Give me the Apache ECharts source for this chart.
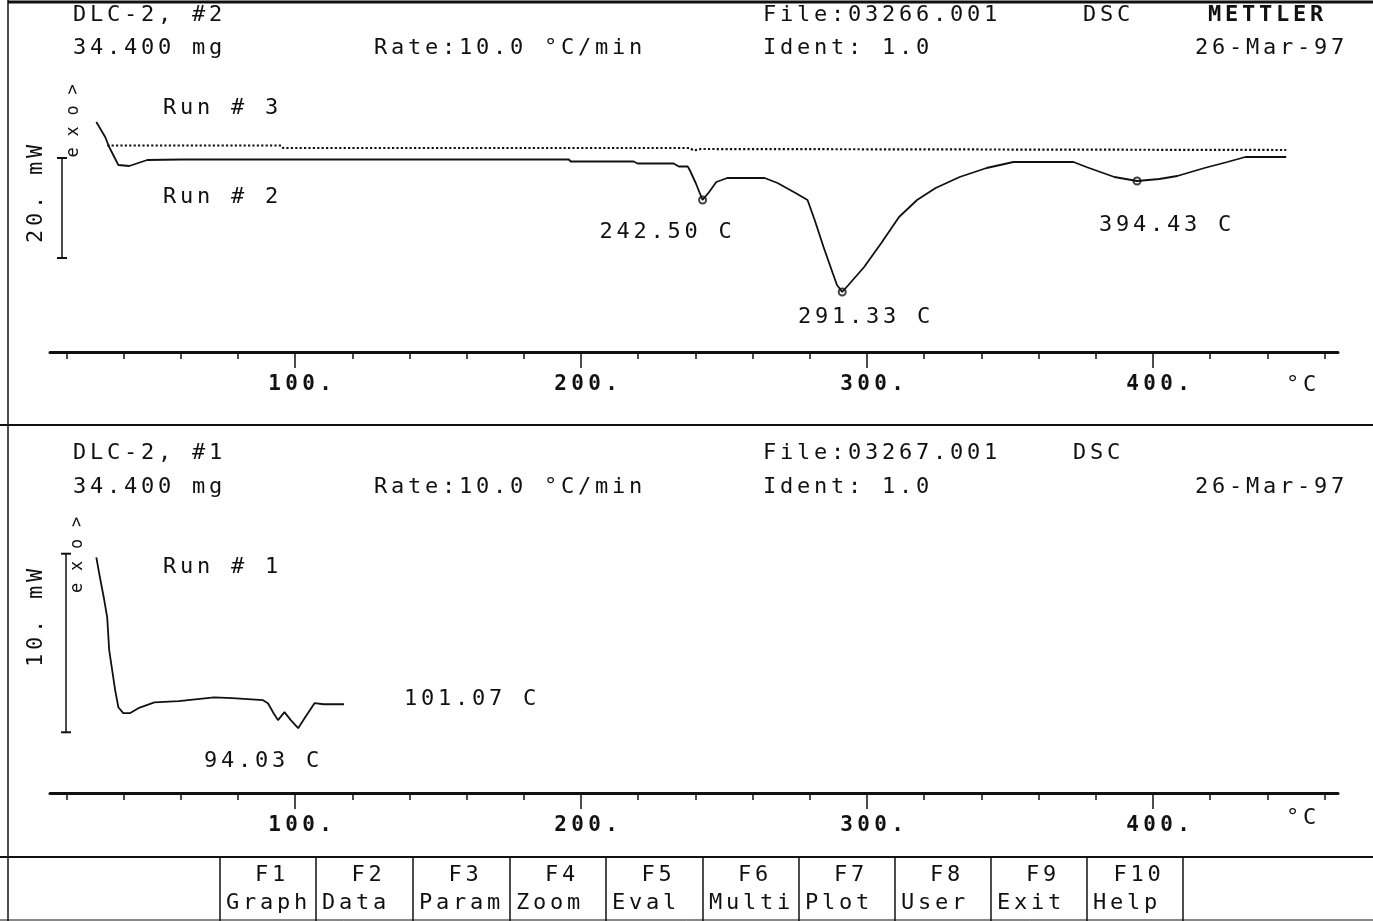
<!DOCTYPE html>
<html>
<head>
<meta charset="utf-8">
<title>DSC DLC-2</title>
<script src="https://cdn.jsdelivr.net/npm/echarts@6/dist/echarts.min.js"></script>
<style>
  html, body { margin: 0; padding: 0; background: #fff; }
  #chart { width: 1373px; height: 921px; }
</style>
</head>
<body>
<div id="chart"></div>
<script>
// temperature in degC, heat flow in mW above the axis baseline
const run2 = [
  [30.5, 46], [33.6, 43], [35.0, 41], [38.2, 37.4], [42.0, 37.2], [48.3, 38.4],
  [60, 38.5], [195.7, 38.5], [196.4, 38.1], [218.4, 38.1], [219.8, 37.7],
  [232.4, 37.7], [234.2, 37.1], [237.3, 37.1], [238.0, 36.4], [240.1, 33.8],
  [241.5, 31.8], [242.5, 30.4], [244.8, 32], [247.3, 34], [251.1, 34.8],
  [264.2, 34.8], [268.7, 33.8], [275.0, 31.8], [279.2, 30.4], [281.7, 26.4],
  [284.8, 21], [288.0, 15.8], [289.5, 13.4], [291.33, 12.0], [293.5, 13.4],
  [299.0, 17], [305.0, 21.8], [311.2, 27], [317.5, 30.4], [324.0, 32.8],
  [332.4, 35], [341.8, 36.8], [351.2, 38], [372.2, 38], [376.7, 37],
  [381.6, 36], [386.5, 35], [394.43, 34.2], [402.2, 34.6], [408.5, 35.2],
  [418.0, 36.8], [426.0, 38], [432.3, 39], [446.6, 39]
];
const run3 = [
  [34.3, 41.3], [95.1, 41.3], [95.8, 40.8], [238.0, 40.8], [239.4, 40.3],
  [241.9, 40.6], [446.6, 40.4]
];
const run1 = [
  [30.5, 13.2], [31.5, 12.3], [33.1, 10.95], [34.3, 9.83], [35.0, 8.0],
  [35.9, 7.04], [37.1, 5.75], [38.2, 4.8], [39.9, 4.47], [42.2, 4.47],
  [45.2, 4.75], [50.8, 5.08], [59.3, 5.14], [71.7, 5.36], [78.0, 5.31],
  [88.8, 5.2], [90.5, 5.03], [92.5, 4.47], [94.03, 4.08], [96.3, 4.53],
  [98.5, 4.08], [101.07, 3.63], [103.6, 4.25], [106.8, 5.03], [110.0, 4.97],
  [117.1, 4.97]
];
const topPeaks = [[242.5, 30.4], [291.33, 12.0], [394.43, 34.2]];
const bottomPeaks = [[94.03, 4.08], [101.07, 3.63]];
const topScaleBar = [[18.5, 38.8], [18.5, 18.8]];     // 20 mW
const bottomScaleBar = [[19.9, 13.4], [19.9, 3.4]];   // 10 mW
const majorTicks = [100, 200, 300, 400];
const minorTicks = [20, 40, 60, 80, 120, 140, 160, 180, 220, 240, 260, 280,
  320, 340, 360, 380, 420, 440, 460];
const fKeys = ['F1', 'F2', 'F3', 'F4', 'F5', 'F6', 'F7', 'F8', 'F9', 'F10'];
const fNames = ['Graph', 'Data', 'Param', 'Zoom', 'Eval', 'Multi', 'Plot', 'User', 'Exit', 'Help'];

const INK = '#111';
const FONT = '"DejaVu Sans Mono", "Liberation Mono", monospace';
const PITCH = 17;   // the plotter prints on a wide fixed character cell
const X_MIN = 14.3, X_MAX = 464.7;

const chart = echarts.init(document.getElementById('chart'));

function majorAxis(grid) {
  return {
    type: 'value', gridIndex: grid, min: X_MIN, max: X_MAX, position: 'bottom',
    axisLine: { show: true, onZero: false, lineStyle: { color: INK, width: 3 } },
    axisTick: { show: true, length: 16, customValues: majorTicks, lineStyle: { color: INK, width: 1.5 } },
    axisLabel: {
      customValues: majorTicks, margin: 22,
      // leading spacer pushes the number right of the tick, as printed
      formatter: v => '{s|}' + (v + '.').split('').map(c => '{c|' + c + '}').join(''),
      rich: {
        s: { width: 10 },
        c: { width: PITCH, align: 'center', color: INK, fontFamily: FONT, fontSize: 21, fontWeight: 'bold' }
      }
    },
    splitLine: { show: false }
  };
}
function minorAxis(grid) {
  return {
    type: 'value', gridIndex: grid, min: X_MIN, max: X_MAX, position: 'bottom',
    axisLine: { show: false, onZero: false },
    axisTick: { show: true, length: 7, customValues: minorTicks, lineStyle: { color: INK, width: 1.5 } },
    axisLabel: { show: false },
    splitLine: { show: false }
  };
}
function curve(data, xi, yi, type) {
  return {
    type: 'line', xAxisIndex: xi, yAxisIndex: yi, data, symbol: 'none',
    lineStyle: { color: INK, width: type === 'dotted' ? 2.2 : 1.8, type: type || 'solid' }
  };
}
function scaleBar(data, xi, yi) {
  return {
    type: 'line', xAxisIndex: xi, yAxisIndex: yi, data,
    symbol: 'rect', symbolSize: [10, 2], showSymbol: true,
    itemStyle: { color: INK }, lineStyle: { color: INK, width: 1.5 }
  };
}

chart.setOption({
  animation: false,
  backgroundColor: '#fff',
  grid: [
    { left: 50, right: 35, top: 102, height: 250 },
    { left: 50, right: 35, top: 543, height: 250 }
  ],
  xAxis: [majorAxis(0), minorAxis(0), majorAxis(1), minorAxis(1)],
  yAxis: [
    { type: 'value', gridIndex: 0, min: 0, max: 50, show: false },
    { type: 'value', gridIndex: 1, min: 0, max: 14, show: false }
  ],
  series: [
    curve(run3, 0, 0, 'dotted'),
    curve(run2, 0, 0),
    scaleBar(topScaleBar, 0, 0),
    {
      type: 'scatter', xAxisIndex: 0, yAxisIndex: 0, data: topPeaks,
      symbol: 'emptyCircle', symbolSize: 7,
      itemStyle: { color: INK, borderColor: INK, borderWidth: 1.3 }
    },
    curve(run1, 2, 1),
    scaleBar(bottomScaleBar, 2, 1)
  ]
});

// one glyph per fixed cell, like the printer output
function txt(s, x, y, o = {}) {
  const pitch = o.pitch || PITCH;
  const start = o.align === 'center' ? -s.length * pitch / 2 : -4;
  const children = [];
  s.split('').forEach((c, i) => {
    if (c === ' ') return;
    children.push({
      type: 'text', x: start + i * pitch + pitch / 2, y: 0,
      style: {
        text: c, fill: INK, fontFamily: FONT, fontSize: o.size || 22,
        fontWeight: o.bold ? 'bold' : 'normal',
        align: 'center', textAlign: 'center',
        verticalAlign: 'middle', textVerticalAlign: 'middle'
      }
    });
  });
  return { type: 'group', x, y, rotation: o.rotation || 0, silent: true, children };
}
function hline(x1, x2, y, w) {
  return { type: 'line', silent: true, shape: { x1, y1: y, x2, y2: y }, style: { stroke: INK, lineWidth: w } };
}
function vline(x, y1, y2, w) {
  return { type: 'line', silent: true, shape: { x1: x, y1, x2: x, y2 }, style: { stroke: INK, lineWidth: w } };
}
const UP = Math.PI / 2;

const elements = [
  hline(8, 1373, 2, 3), vline(8, 0, 921, 1.5),
  hline(0, 1373, 425, 2), hline(0, 1373, 857, 2), hline(0, 1373, 920, 1),
  // header, top panel
  txt('DLC-2, #2', 75, 15), txt('34.400 mg', 75, 48), txt('Rate:10.0 °C/min', 376, 48),
  txt('File:03266.001', 765, 15), txt('DSC', 1085, 15), txt('METTLER', 1210, 15, { bold: true }),
  txt('Ident: 1.0', 765, 48), txt('26-Mar-97', 1197, 48),
  txt('Run # 3', 165, 108), txt('Run # 2', 165, 197), txt('°C', 1288, 385),
  txt('20. mW', 36, 194, { rotation: UP, align: 'center' }),
  txt('exo>', 74, 121, { rotation: UP, align: 'center', pitch: 21, size: 17 }),
  // header, bottom panel
  txt('DLC-2, #1', 75, 453), txt('34.400 mg', 75, 487), txt('Rate:10.0 °C/min', 376, 487),
  txt('File:03267.001', 765, 453), txt('DSC', 1075, 453),
  txt('Ident: 1.0', 765, 487), txt('26-Mar-97', 1197, 487),
  txt('Run # 1', 165, 567), txt('°C', 1288, 818),
  txt('10. mW', 36, 618, { rotation: UP, align: 'center' }),
  txt('exo>', 78, 555, { rotation: UP, align: 'center', pitch: 22, size: 17 })
];

// function key bar
const keyEdges = [220, 316, 413, 510, 606, 703, 799, 895, 991, 1087, 1183];
keyEdges.forEach(x => elements.push(vline(x, 857, 921, 1.5)));
fKeys.forEach((k, i) => {
  const l = keyEdges[i], r = keyEdges[i + 1];
  elements.push(txt(k, (l + r) / 2 + 2, 875, { align: 'center' }));
  elements.push(txt(fNames[i], l + 8, 903));
});

// peak labels, placed from the data points through the chart scales
const topLabelShift = [[-101, 32], [-42, 25], [-36, 44]];
const bottomLabelShift = [[-72, 41], [108, -29]];
topPeaks.forEach((p, i) => {
  const [px, py] = chart.convertToPixel({ seriesIndex: 1 }, p);
  elements.push(txt(p[0].toFixed(2) + ' C', px + topLabelShift[i][0], py + topLabelShift[i][1]));
});
bottomPeaks.forEach((p, i) => {
  const [px, py] = chart.convertToPixel({ seriesIndex: 4 }, p);
  elements.push(txt(p[0].toFixed(2) + ' C', px + bottomLabelShift[i][0], py + bottomLabelShift[i][1]));
});

chart.setOption({ graphic: { elements } });
</script>
</body>
</html>
